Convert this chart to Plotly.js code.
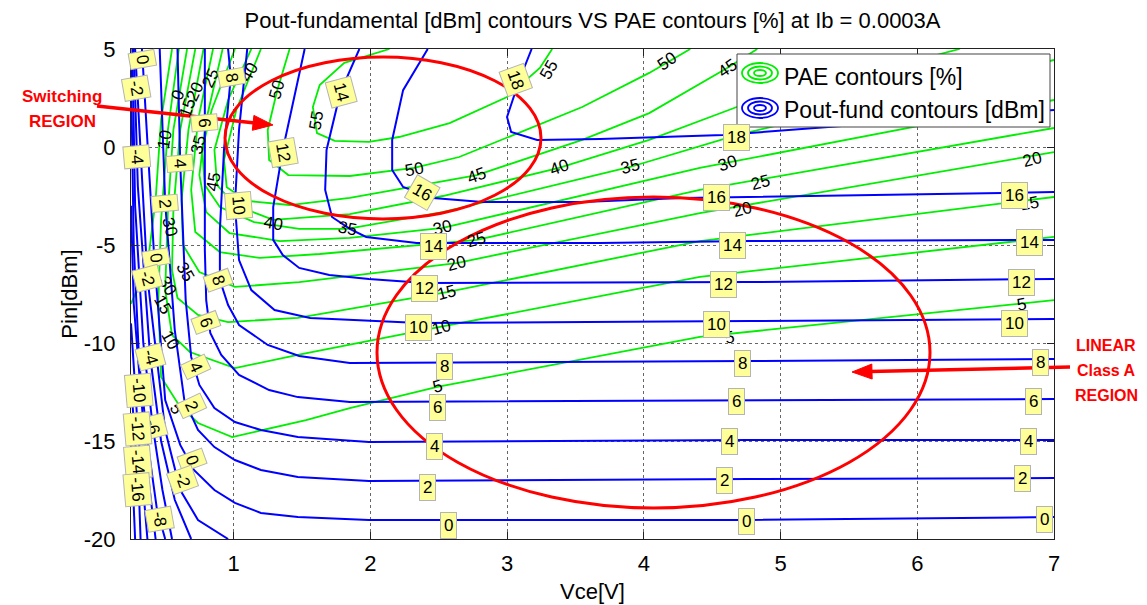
<!DOCTYPE html>
<html><head><meta charset="utf-8">
<script src="https://cdn.plot.ly/plotly-3.0.1.min.js"></script>
<style>html,body{margin:0;padding:0;background:#fff}#chart{width:1147px;height:605px}</style>
</head><body><div id="chart"></div>
<script>
// ---------- Pout-fundamental contours [dBm] (Vce [V], Pin [dBm]) ----------
const p18Vce = [3.18, 3.09, 3.00, 3.03, 3.22, 3.68, 4.58, 5.87, 7.0];
const p18Pin = [5.0, 3.42, 1.53, 0.77, 0.36, 0.41, 0.61, 1.28, 1.89];
const p16Vce = [2.42, 2.24, 2.16, 2.16, 2.24, 2.46, 2.82, 3.55, 4.28, 5.5, 7.0];
const p16Pin = [5, 2.9, 0.36, -1.17, -2.04, -2.6, -2.8, -2.8, -2.6, -2.45, -2.3];
const p14Vce = [1.92, 1.78, 1.68, 1.67, 1.72, 1.85, 1.97, 2.34, 3.68, 4.77, 7.0];
const p14Pin = [5, 2.76, -0.15, -2.19, -3.57, -4.18, -4.59, -4.9, -4.9, -4.8, -4.74];
const p12Vce = [1.52, 1.36, 1.29, 1.29, 1.36, 1.48, 1.70, 1.99, 2.40, 4.77, 7.0];
const p12Pin = [5, -0.15, -3.06, -4.74, -5.51, -6.17, -6.53, -6.73, -6.94, -6.89, -6.73];
const p10Vce = [1.10, 1.04, 1.01, 1.04, 1.13, 1.30, 1.56, 1.99, 2.36, 4.77, 7.0];
const p10Pin = [5, 0.87, -2.96, -5.77, -7.30, -8.32, -8.72, -8.88, -8.98, -8.88, -8.78];
const p8Vce = [0.96, 0.98, 0.93, 0.90, 0.90, 0.96, 1.04, 1.25, 1.48, 1.85, 4.77, 7.0];
const p8Pin = [5, 3.57, -0.15, -4.23, -6.79, -8.06, -9.08, -10.1, -10.66, -11.02, -10.92, -10.82];
const p6Vce = [0.79, 0.79, 0.79, 0.80, 0.83, 0.91, 1.04, 1.26, 1.47, 1.85, 4.77, 7.0];
const p6Pin = [5, 1.22, -5.26, -7.81, -9.49, -10.61, -11.63, -12.4, -12.76, -13.01, -12.91, -12.86];
const p4Vce = [0.59, 0.61, 0.65, 0.69, 0.75, 0.86, 1.01, 1.20, 1.47, 1.99, 4.77, 7.0];
const p4Pin = [5, -0.82, -7.81, -10.71, -12.14, -13.32, -14.03, -14.44, -14.8, -15.05, -14.95, -14.95];
const p2Vce = [0.46, 0.50, 0.57, 0.64, 0.74, 0.86, 1.01, 1.20, 1.47, 1.99, 4.77, 7.0];
const p2Pin = [5, -2.86, -9.34, -12.91, -14.44, -15.31, -15.97, -16.48, -16.84, -17.04, -16.94, -16.89];
const p0Vce = [0.33, 0.42, 0.50, 0.61, 0.71, 0.86, 1.01, 1.20, 1.47, 1.99, 4.77, 7.0];
const p0Pin = [5, -5.66, -12.91, -15.2, -16.48, -17.5, -18.16, -18.67, -18.88, -19.03, -19.03, -18.88];
const pm2Vce = [0.28, 0.37, 0.50, 0.61, 0.74, 0.96];
const pm2Pin = [5, -6.68, -14.44, -17.5, -19.03, -20.0];
const pm4Vce = [0.27, 0.30, 0.39, 0.47, 0.57, 0.69];
const pm4Pin = [5, -2, -10.7, -15, -18, -20];
const pm6Vce = [0.26, 0.28, 0.34, 0.41, 0.48, 0.55];
const pm6Pin = [5, -3, -10, -14.3, -17.5, -20];
const pm8Vce = [0.25, 0.27, 0.31, 0.37, 0.44, 0.50];
const pm8Pin = [4, -5, -11, -15, -18.5, -20];
const pm10Vce = [0.25, 0.27, 0.32, 0.37, 0.43];
const pm10Pin = [-3, -8, -12.4, -16.5, -20];
const pm12Vce = [0.25, 0.30, 0.34, 0.37];
const pm12Pin = [-9, -14.4, -17.5, -20];
const pm14Vce = [0.25, 0.28, 0.31, 0.32];
const pm14Pin = [-12, -15, -18, -20];
const pm16Vce = [0.25, 0.27, 0.28];
const pm16Pin = [-15, -18, -20];

// ---------- PAE contours [%] ----------
const g0Vce = [0.55, 0.47, 0.43, 0.38, 0.31, 0.25];
const g0Pin = [5, 1.38, -2.7, -5.5, -7.0, -8.0];
const g5Vce = [0.60, 0.52, 0.47, 0.45, 0.47, 0.60, 0.74, 0.99, 1.53, 1.85, 2.49, 4.41, 7.0];
const g5Pin = [5, 0.87, -3.72, -7.81, -11.73, -13.16, -14.08, -14.80, -13.93, -13.32, -12.24, -9.69, -7.81];
const g10Vce = [0.66, 0.56, 0.52, 0.50, 0.55, 0.68, 1.01, 1.47, 2.51, 4.41, 7.0];
const g10Pin = [5, 0.87, -3.21, -7.30, -9.59, -10.46, -11.28, -10.61, -9.18, -6.63, -4.59];
const g15Vce = [0.72, 0.61, 0.56, 0.55, 0.59, 0.74, 0.96, 1.47, 2.56, 4.41, 7.0];
const g15Pin = [5, 0.87, -3.21, -6.28, -7.70, -8.57, -8.93, -8.72, -7.40, -4.80, -2.55];
const g20Vce = [0.78, 0.67, 0.62, 0.63, 0.75, 1.01, 1.48, 2.63, 4.41, 7.0];
const g20Pin = [5, 0.87, -2.70, -5.00, -6.38, -7.14, -6.89, -5.92, -3.37, -0.26];
const g25Vce = [0.85, 0.74, 0.69, 0.72, 0.90, 1.19, 1.63, 2.78, 4.41, 7.0];
const g25Pin = [5, 1.38, -2.19, -4.34, -5.36, -5.66, -5.46, -4.74, -2.19, 0.97];
const g30Vce = [0.92, 0.80, 0.75, 0.80, 0.97, 1.34, 1.85, 2.53, 4.41, 7.0];
const g30Pin = [5, 1.38, -1.43, -3.32, -4.39, -4.80, -4.64, -4.13, -1.07, 2.40];
const g35Vce = [1.01, 0.84, 0.77, 0.79, 0.90, 1.15, 1.48, 1.83, 2.53, 3.90, 4.68, 7.0];
const g35Pin = [5, 1.89, -0.15, -1.94, -3.06, -3.83, -4.18, -4.18, -3.32, -1.02, 0.61, 4.44];
const g40Vce = [1.13, 0.96, 0.86, 0.88, 1.01, 1.29, 1.85, 2.53, 3.38, 4.04, 4.68, 5.87, 6.31];
const g40Pin = [5, 2.40, -0.15, -1.94, -2.96, -3.72, -3.42, -2.50, -1.07, 0.36, 2.04, 4.18, 5];
const g45Vce = [1.20, 1.02, 0.93, 0.95, 1.10, 1.41, 1.85, 2.78, 3.55, 4.04, 4.61, 4.83];
const g45Pin = [5, 1.89, -0.66, -2.05, -2.75, -2.96, -2.60, -1.43, 0.36, 1.73, 4.03, 5];
const g50Vce = [1.41, 1.32, 1.25, 1.26, 1.40, 1.85, 2.32, 2.65, 3.55, 4.04, 4.34];
const g50Pin = [5, 2.91, 0.87, -0.66, -1.43, -1.48, -1.07, -0.51, 2.04, 3.78, 5];
const g55Vce = [2.14, 1.81, 1.63, 1.58, 1.61, 1.74, 1.99, 2.21, 2.58, 3.00, 3.24, 3.33];
const g55Pin = [5, 4.29, 3.16, 2.04, 0.71, 0.31, 0.26, 0.51, 1.22, 2.55, 4.03, 5];

// ---------- contour labels ----------
const poutLabelText = ['18','18','16','16','16','14','14','14','14','12','12','12','12','10','10','10','10',
  '8','8','8','8','8','6','6','6','6','6','4','4','4','4','4','2','2','2','2','2','0','0','0','0','0','0',
  '-2','-2','-2','-4','-4','-6','-8','-10','-12','-14','-16'];
const poutLabelVce = [3.06,4.68,2.38,4.53,6.71,1.79,2.46,4.65,6.82,1.36,2.40,4.58,6.76,1.04,2.35,4.53,6.71,
  0.99,0.89,2.54,4.72,6.90,0.79,0.80,2.49,4.68,6.85,0.61,0.72,2.47,4.63,6.81,0.50,0.69,2.42,4.59,6.77,0.33,0.43,0.70,2.57,4.75,6.93,
  0.29,0.37,0.63,0.29,0.39,0.41,0.46,0.31,0.30,0.30,0.30];
const poutLabelPin = [3.42,0.51,-2.30,-2.6,-2.45,2.8,-5.1,-5.0,-4.85,-0.3,-7.2,-7.04,-6.89,-2.96,-9.23,-9.08,-8.98,
  3.57,-6.79,-11.2,-11.07,-11.02,1.22,-8.93,-13.27,-13.0,-13.0,-0.82,-11.22,-15.3,-15.05,-15.05,-2.86,-13.2,-17.35,-16.99,-16.9,4.44,-5.66,-15.97,-19.3,-19.13,-19.03,
  3.0,-6.7,-17.0,-0.5,-10.7,-14.3,-19.0,-12.4,-14.4,-16.1,-17.5];
const poutLabelAngle = [70,0,30,0,0,75,0,0,0,80,0,0,0,85,0,0,0,
  80,70,0,0,0,85,70,0,0,0,85,65,0,0,0,85,65,0,0,0,80,80,70,0,0,0,
  80,75,70,85,75,75,80,85,85,85,85];

const paeLabelText = ['55','55','50','50','50','45','45','45','40','40','40','35','35','35','35',
  '30','30','30','30','25','25','25','20','20','20','20','15','15','15','15','10','10','10','5','5','5','5','0'];
const paeLabelVce = [1.61,3.31,1.32,2.32,4.17,0.85,2.78,4.61,1.12,1.29,3.38,0.74,0.65,1.83,3.90,
  0.53,0.52,2.53,4.61,0.83,2.78,4.85,0.72,2.63,4.72,6.84,0.66,0.48,2.56,6.82,0.50,0.54,2.52,0.58,2.49,4.63,6.76,0.59];
const paeLabelPin = [1.38,3.93,2.91,-1.17,4.34,-1.79,-1.43,4.03,3.83,-3.88,-1.07,0.10,-6.38,-4.18,-1.02,
  -4.08,-7.1,-4.13,-0.82,3.52,-4.74,-1.79,2.81,-5.92,-3.21,-0.66,1.99,-8.06,-7.40,-2.86,0.36,-9.85,-9.23,-13.32,-12.24,-9.74,-8.06,2.65];
const paeLabelAngle = [-80,-60,-75,-10,-35,-80,-20,-35,-60,10,-20,-75,60,10,-15,
  75,60,-15,-20,-65,-15,-15,-65,-15,-15,-15,-70,60,-15,-10,-80,60,-15,55,-15,-10,-10,-70];

// ---------- helpers (pixel -> paper, for decorations only) ----------
const L = 131, T = 49, W = 923, H = 490;
const PX = px => (px - L) / W;
const PY = py => (T + H - py) / H;
const FONT = 'Liberation Sans, Arial, Helvetica, sans-serif';

const paeLines = [[g0Vce,g0Pin],[g5Vce,g5Pin],[g10Vce,g10Pin],[g15Vce,g15Pin],[g20Vce,g20Pin],[g25Vce,g25Pin],
  [g30Vce,g30Pin],[g35Vce,g35Pin],[g40Vce,g40Pin],[g45Vce,g45Pin],[g50Vce,g50Pin],[g55Vce,g55Pin]];
const poutLines = [[p18Vce,p18Pin],[p16Vce,p16Pin],[p14Vce,p14Pin],[p12Vce,p12Pin],[p10Vce,p10Pin],[p8Vce,p8Pin],
  [p6Vce,p6Pin],[p4Vce,p4Pin],[p2Vce,p2Pin],[p0Vce,p0Pin],[pm2Vce,pm2Pin],[pm4Vce,pm4Pin],[pm6Vce,pm6Pin],
  [pm8Vce,pm8Pin],[pm10Vce,pm10Pin],[pm12Vce,pm12Pin],[pm14Vce,pm14Pin],[pm16Vce,pm16Pin]];

const traces = [];
paeLines.forEach(([xs, ys]) => traces.push({type:'scatter', mode:'lines', x:xs, y:ys,
  line:{color:'#00ee00', width:1.8}, hoverinfo:'skip', showlegend:false}));
poutLines.forEach(([xs, ys]) => traces.push({type:'scatter', mode:'lines', x:xs, y:ys,
  line:{color:'#0000ff', width:2}, hoverinfo:'skip', showlegend:false}));

const annotations = [];
paeLabelText.forEach((t, i) => annotations.push({x:paeLabelVce[i], y:paeLabelPin[i], xref:'x', yref:'y',
  text:t, showarrow:false, textangle:paeLabelAngle[i], font:{family:FONT, size:17, color:'#000'}}));
poutLabelText.forEach((t, i) => annotations.push({x:poutLabelVce[i], y:poutLabelPin[i], xref:'x', yref:'y',
  text:t, showarrow:false, textangle:poutLabelAngle[i], font:{family:FONT, size:17, color:'#000'},
  bgcolor:'#ffff99', bordercolor:'#b4b4b4', borderwidth:1, borderpad:3}));

// legend texts
annotations.push({xref:'paper', yref:'paper', x:PX(782), y:PY(77), xanchor:'left', yanchor:'middle',
  text:'PAE contours [%]', showarrow:false, font:{family:FONT, size:23, color:'#000'}});
annotations.push({xref:'paper', yref:'paper', x:PX(782), y:PY(110), xanchor:'left', yanchor:'middle',
  text:'Pout-fund contours [dBm]', showarrow:false, font:{family:FONT, size:23, color:'#000'}});
// region notes
const red = '#ff0000';
[['Switching',62,97,17],['REGION',62,121,17],['LINEAR',1106,345,16],['Class A',1106,370,16],['REGION',1106,395,16]].forEach(([t,x,y,s]) =>
  annotations.push({xref:'paper', yref:'paper', x:PX(x), y:PY(y), xanchor:'center', yanchor:'middle',
    text:'<b>'+t+'</b>', showarrow:false, font:{family:FONT, size:s, color:red}}));

// shapes: ellipses, arrows, legend box
const shapes = [];
shapes.push({type:'circle', xref:'paper', yref:'paper', x0:PX(225), x1:PX(541), y0:PY(219), y1:PY(57),
  line:{color:red, width:3}, layer:'above'});
shapes.push({type:'circle', xref:'paper', yref:'paper', x0:PX(377), x1:PX(930), y0:PY(508), y1:PY(197),
  line:{color:red, width:3}, layer:'above'});
function arrow(tx, ty, hx, hy) {
  const dx = hx - tx, dy = hy - ty, len = Math.hypot(dx, dy);
  const ux = dx / len, uy = dy / len, hl = 20, hw = 7.5;
  const bx = hx - ux * hl, by = hy - uy * hl;
  shapes.push({type:'line', xref:'paper', yref:'paper', x0:PX(tx), y0:PY(ty), x1:PX(bx + ux*2), y1:PY(by + uy*2),
    line:{color:red, width:3.5}, layer:'above'});
  const p1 = [bx - uy*hw, by + ux*hw], p2 = [bx + uy*hw, by - ux*hw];
  shapes.push({type:'path', xref:'paper', yref:'paper', layer:'above',
    path:`M${PX(hx)},${PY(hy)} L${PX(p1[0])},${PY(p1[1])} L${PX(p2[0])},${PY(p2[1])} Z`,
    fillcolor:red, line:{color:red, width:1}});
}
arrow(97, 106, 273, 125);
arrow(1070, 367, 852, 372);
// legend box + icons
shapes.push({type:'rect', xref:'paper', yref:'paper', x0:PX(737), x1:PX(1050), y0:PY(127), y1:PY(54),
  fillcolor:'#ffffff', line:{color:'#444', width:1}, layer:'above'});
[[73,'#00ee00'],[108,'#0000ff']].forEach(([cy,c]) => {
  [[18,10],[12,6.5],[6,3]].forEach(([rx,ry]) => shapes.push({type:'circle', xref:'paper', yref:'paper', layer:'above',
    x0:PX(760-rx), x1:PX(760+rx), y0:PY(cy+ry), y1:PY(cy-ry), line:{color:c, width:1.8}}));
});

const axisCommon = {showline:true, linecolor:'#222', linewidth:1, mirror:'ticks', ticks:'inside', ticklen:7,
  tickcolor:'#222', showgrid:true, gridcolor:'#666', griddash:'dot', gridwidth:1, zeroline:false,
  tickfont:{family:FONT, size:22, color:'#000'}};

const layout = {
  width:1147, height:605, paper_bgcolor:'#fff', plot_bgcolor:'#fff', showlegend:false, hovermode:false,
  margin:{l:L, r:1147-L-W, t:T, b:605-T-H},
  font:{family:FONT},
  title:{text:'Pout-fundamental [dBm] contours VS PAE contours [%] at Ib = 0.0003A',
    font:{family:FONT, size:22, color:'#000'}, x:0.5, xref:'paper', y:1-20/605, yref:'container', yanchor:'middle'},
  xaxis:Object.assign({}, axisCommon, {range:[0.25, 7], tickvals:[1,2,3,4,5,6,7], ticktext:['1','2','3','4','5','6','7'],
    ticklabelstandoff:5, title:{text:'Vce[V]', font:{family:FONT, size:22, color:'#000'}, standoff:8}}),
  yaxis:Object.assign({}, axisCommon, {range:[-20, 5], tickvals:[-20,-15,-10,-5,0,5],
    ticktext:['-20','-15','-10','-5','0','5'], ticklabelstandoff:10,
    title:{text:'Pin[dBm]', font:{family:FONT, size:22, color:'#000'}, standoff:0}}),
  annotations, shapes
};
Plotly.newPlot('chart', traces, layout, {staticPlot:true, displayModeBar:false});
</script></body></html>
